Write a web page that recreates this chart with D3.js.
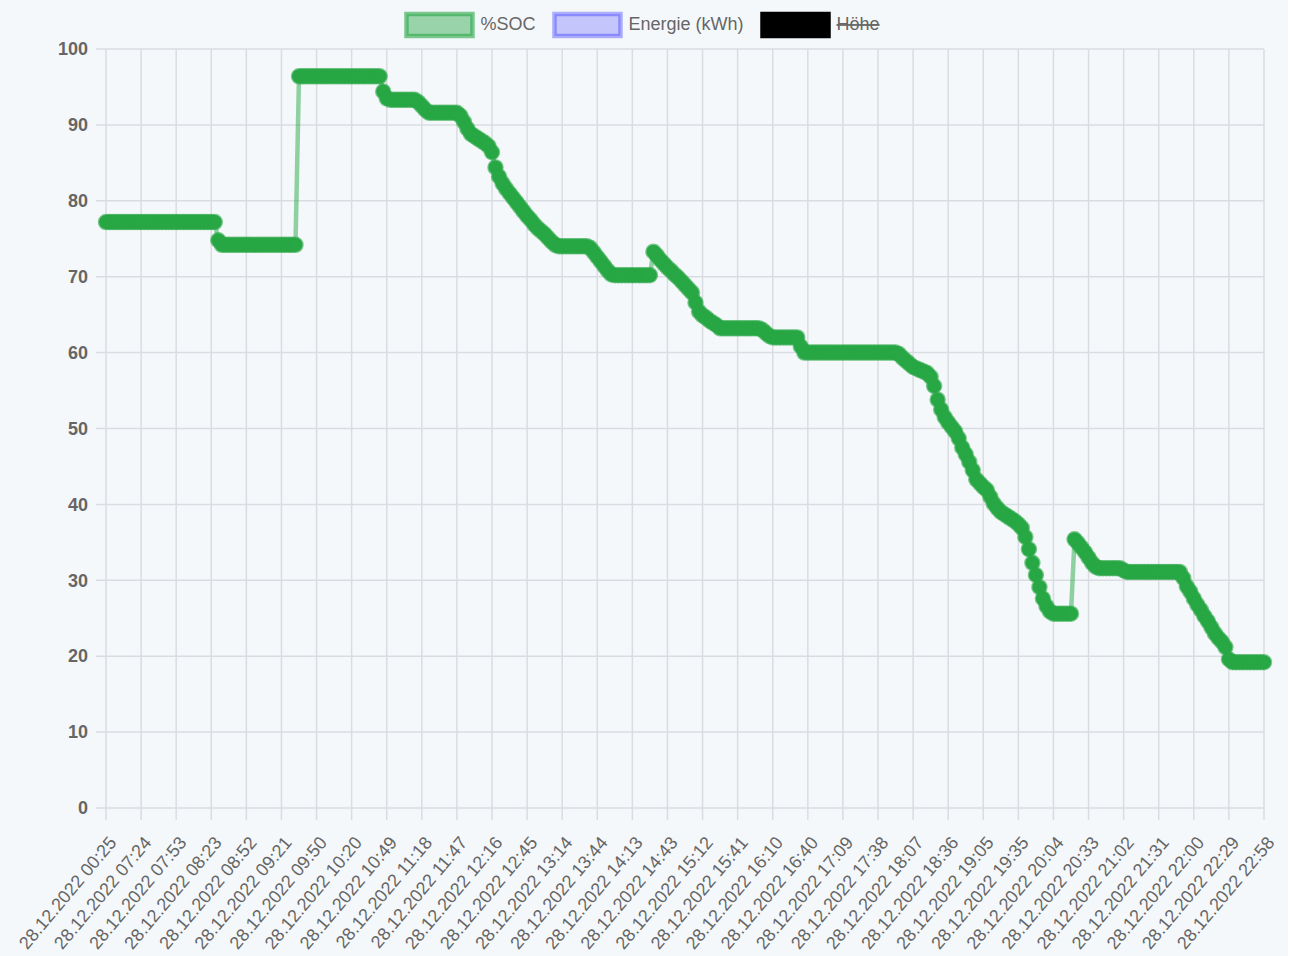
<!DOCTYPE html>
<html>
<head>
<meta charset="utf-8">
<script src="https://cdn.jsdelivr.net/npm/d3@7"></script>
<style>
  body { margin: 0; background: #ffffff; }
  svg { display: block; font-family: "Liberation Sans", Arial, sans-serif; }
</style>
</head>
<body>
<div id="chart"></div>
<script>
// shown x tick labels (category axis, autoskipped)
const tickLabels = [
  '28.12.2022 00:25', '28.12.2022 07:24', '28.12.2022 07:53', '28.12.2022 08:23',
  '28.12.2022 08:52', '28.12.2022 09:21', '28.12.2022 09:50', '28.12.2022 10:20',
  '28.12.2022 10:49', '28.12.2022 11:18', '28.12.2022 11:47', '28.12.2022 12:16',
  '28.12.2022 12:45', '28.12.2022 13:14', '28.12.2022 13:44', '28.12.2022 14:13',
  '28.12.2022 14:43', '28.12.2022 15:12', '28.12.2022 15:41', '28.12.2022 16:10',
  '28.12.2022 16:40', '28.12.2022 17:09', '28.12.2022 17:38', '28.12.2022 18:07',
  '28.12.2022 18:36', '28.12.2022 19:05', '28.12.2022 19:35', '28.12.2022 20:04',
  '28.12.2022 20:33', '28.12.2022 21:02', '28.12.2022 21:31', '28.12.2022 22:00',
  '28.12.2022 22:29', '28.12.2022 22:58'
];

// %SOC readings, 10 samples per shown tick interval (one row = one interval)
const samplesPerTick = 10;
const socValues = [
  77.2, 77.2, 77.2, 77.2, 77.2, 77.2, 77.2, 77.2, 77.2, 77.2,
  77.2, 77.2, 77.2, 77.2, 77.2, 77.2, 77.2, 77.2, 77.2, 77.2,
  77.2, 77.2, 77.2, 77.2, 77.2, 77.2, 77.2, 77.2, 77.2, 77.2,
  77.2, 77.2, 74.8, 74.2, 74.2, 74.2, 74.2, 74.2, 74.2, 74.2,
  74.2, 74.2, 74.2, 74.2, 74.2, 74.2, 74.2, 74.2, 74.2, 74.2,
  74.2, 74.2, 74.2, 74.2, 74.2, 96.4, 96.4, 96.4, 96.4, 96.4,
  96.4, 96.4, 96.4, 96.4, 96.4, 96.4, 96.4, 96.4, 96.4, 96.4,
  96.4, 96.4, 96.4, 96.4, 96.4, 96.4, 96.4, 96.4, 96.4, 94.4,
  93.5, 93.3, 93.3, 93.3, 93.3, 93.3, 93.3, 93.3, 93.3, 93.0,
  92.5, 92.0, 91.6, 91.6, 91.6, 91.6, 91.6, 91.6, 91.6, 91.6,
  91.6, 91.2, 90.4, 89.5, 88.8, 88.5, 88.2, 87.9, 87.6, 87.2,
  86.4, 84.4, 83.2, 82.3, 81.6, 81.0, 80.4, 79.8, 79.2, 78.6,
  78.0, 77.5, 76.9, 76.4, 76.0, 75.6, 75.1, 74.6, 74.2, 74.0,
  74.0, 74.0, 74.0, 74.0, 74.0, 74.0, 74.0, 74.0, 73.8, 73.2,
  72.6, 72.0, 71.4, 70.8, 70.3, 70.2, 70.2, 70.2, 70.2, 70.2,
  70.2, 70.2, 70.2, 70.2, 70.2, 70.2, 73.3, 72.8, 72.2, 71.7,
  71.2, 70.8, 70.3, 69.9, 69.4, 68.9, 68.4, 67.9, 66.6, 65.4,
  64.9, 64.6, 64.2, 63.9, 63.6, 63.2, 63.2, 63.2, 63.2, 63.2,
  63.2, 63.2, 63.2, 63.2, 63.2, 63.2, 63.2, 63.0, 62.6, 62.2,
  62.0, 62.0, 62.0, 62.0, 62.0, 62.0, 62.0, 62.0, 60.8, 60.0,
  60.0, 60.0, 60.0, 60.0, 60.0, 60.0, 60.0, 60.0, 60.0, 60.0,
  60.0, 60.0, 60.0, 60.0, 60.0, 60.0, 60.0, 60.0, 60.0, 60.0,
  60.0, 60.0, 60.0, 60.0, 60.0, 60.0, 59.8, 59.3, 58.9, 58.5,
  58.1, 57.9, 57.7, 57.5, 57.3, 56.8, 55.6, 53.8, 52.5, 51.5,
  50.8, 50.2, 49.6, 48.7, 47.5, 46.6, 45.6, 44.5, 43.3, 42.8,
  42.3, 41.9, 41.0, 40.1, 39.5, 39.0, 38.7, 38.4, 38.1, 37.8,
  37.4, 36.9, 35.7, 34.1, 32.3, 30.7, 29.1, 27.6, 26.6, 25.9,
  25.6, 25.6, 25.6, 25.6, 25.6, 25.6, 35.4, 34.9, 34.3, 33.7,
  33.0, 32.3, 31.8, 31.6, 31.6, 31.6, 31.6, 31.6, 31.6, 31.6,
  31.3, 31.1, 31.1, 31.1, 31.1, 31.1, 31.1, 31.1, 31.1, 31.1,
  31.1, 31.1, 31.1, 31.1, 31.1, 31.1, 31.1, 30.3, 29.2, 28.5,
  27.6, 26.8, 26.1, 25.3, 24.6, 23.8, 23.0, 22.4, 21.9, 21.2,
  19.6, 19.2, 19.2, 19.2, 19.2, 19.2, 19.2, 19.2, 19.2, 19.2,
  19.2
];

const yTicks = [0, 10, 20, 30, 40, 50, 60, 70, 80, 90, 100];

const legendLabels = ['%SOC', 'Energie (kWh)', 'Höhe'];
const legendFills = ['rgba(40,167,69,0.45)', 'rgba(0,0,255,0.2)', '#000000'];
const legendStrokes = ['rgba(40,167,69,0.6)', 'rgba(0,0,255,0.3)', '#000000'];
const legendHidden = [false, false, true];

const width = 1301, height = 956;
const canvasW = 1288;
const margin = { left: 106, right: canvasW - 1264, top: 49, bottom: height - 808 };

const svg = d3.select('#chart').append('svg')
  .attr('width', width)
  .attr('height', height);

svg.append('rect')
  .attr('width', canvasW).attr('height', height)
  .attr('fill', '#f5f8fb');

const x = d3.scaleLinear()
  .domain([0, tickLabels.length - 1])
  .range([margin.left, canvasW - margin.right]);

const y = d3.scaleLinear()
  .domain([0, 100])
  .range([height - margin.bottom, margin.top]);

const gridColor = '#d9dce1';

// horizontal grid
svg.append('g').selectAll('line')
  .data(yTicks)
  .join('line')
  .attr('x1', margin.left - 10)
  .attr('x2', x.range()[1])
  .attr('y1', d => y(d)).attr('y2', d => y(d))
  .attr('stroke', gridColor).attr('stroke-width', 1.5);

// vertical grid
svg.append('g').selectAll('line')
  .data(d3.range(tickLabels.length))
  .join('line')
  .attr('x1', d => x(d)).attr('x2', d => x(d))
  .attr('y1', y(100))
  .attr('y2', y(0) + 12)
  .attr('stroke', gridColor).attr('stroke-width', 1.5);

// y axis labels
const yAxis = svg.append('g')
  .attr('transform', `translate(${margin.left},0)`)
  .call(d3.axisLeft(y).tickValues(yTicks).tickSize(10).tickPadding(8));
yAxis.select('.domain').remove();
yAxis.selectAll('line').remove();
yAxis.selectAll('text')
  .attr('fill', '#666')
  .attr('font-size', 18)
  .attr('font-weight', 'bold')
  .attr('font-family', '"Liberation Sans", Arial, sans-serif');

// x axis labels
const xAxis = svg.append('g')
  .attr('transform', `translate(0,${y(0)})`)
  .call(d3.axisBottom(x)
    .tickValues(d3.range(tickLabels.length))
    .tickFormat(i => tickLabels[i])
    .tickSize(12));
xAxis.select('.domain').remove();
xAxis.selectAll('line').remove();
xAxis.selectAll('text')
  .attr('fill', '#666')
  .attr('font-size', 18)
  .attr('font-family', '"Liberation Sans", Arial, sans-serif')
  .attr('text-anchor', 'end')
  .attr('y', 0)
  .attr('dy', '0.35em')
  .attr('transform', 'translate(6,31) rotate(-50)');

// series
const pts = socValues.map((v, i) => ({ i: i / samplesPerTick, v }));

const line = d3.line()
  .x(d => x(d.i))
  .y(d => y(d.v));

svg.append('path')
  .datum(pts)
  .attr('d', line)
  .attr('fill', 'none')
  .attr('stroke', 'rgba(40,167,69,0.5)')
  .attr('stroke-width', 4.5)
  .attr('stroke-linejoin', 'round');

svg.append('g').selectAll('circle')
  .data(pts)
  .join('circle')
  .attr('cx', d => x(d.i))
  .attr('cy', d => y(d.v))
  .attr('r', 7)
  .attr('fill', '#28a745')
  .attr('stroke', 'rgba(40,167,69,0.6)')
  .attr('stroke-width', 2.5);

// legend
const legend = svg.append('g');
const boxW = 66, boxH = 22, gapText = 10, gapItem = 13;
const items = legend.selectAll('g')
  .data(legendLabels)
  .join('g');
items.append('rect')
  .attr('x', 2).attr('y', 14)
  .attr('width', boxW).attr('height', boxH)
  .attr('fill', (d, i) => legendFills[i])
  .attr('stroke', (d, i) => legendStrokes[i])
  .attr('stroke-width', 4.5);
items.append('text')
  .attr('x', boxW + gapText)
  .attr('y', 24)
  .attr('dy', '0.35em')
  .attr('font-size', 18)
  .attr('fill', '#666')
  .attr('text-decoration', (d, i) => legendHidden[i] ? 'line-through' : null)
  .text(d => d);

let widths = [];
items.each(function () {
  widths.push(boxW + 4 + gapText + d3.select(this).select('text').node().getComputedTextLength());
});
const total = d3.sum(widths) + gapItem * (widths.length - 1);
let cursor = canvasW / 2 - total / 2;
items.attr('transform', (d, i) => {
  const t = `translate(${cursor},0)`;
  cursor += widths[i] + gapItem;
  return t;
});
</script>
</body>
</html>
